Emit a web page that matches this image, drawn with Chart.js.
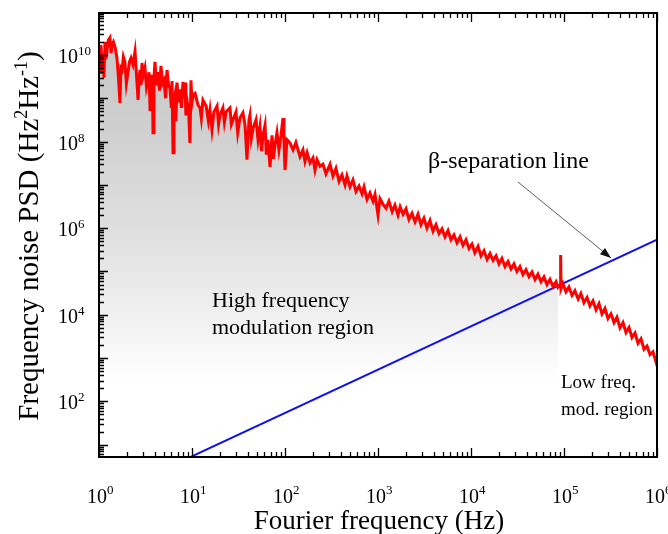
<!DOCTYPE html>
<html>
<head>
<meta charset="utf-8">
<script src="https://cdn.jsdelivr.net/npm/chart.js@4.4.0/dist/chart.umd.min.js"></script>
<style>
  html, body { margin: 0; padding: 0; background: #fff; }
  #wrap { width: 668px; height: 534px; }
</style>
</head>
<body>
<div id="wrap"><canvas id="psdChart" width="668" height="534"></canvas></div>
<script>
const freqHz = [
  1.0, 1.03, 1.05, 1.08, 1.1, 1.13, 1.16, 1.19, 1.22, 1.26, 1.31, 1.35, 1.38, 1.43, 1.49, 1.56, 1.62, 1.68, 1.72, 1.77,
  1.83, 1.9, 1.97, 2.05, 2.13, 2.21, 2.32, 2.44, 2.52, 2.63, 2.7, 2.76, 2.83, 2.9, 3.0, 3.12, 3.24, 3.36, 3.45, 3.54,
  3.62, 3.71, 3.76, 3.81, 3.9, 4.0, 4.15, 4.31, 4.47, 4.64, 4.82, 5.0, 5.2, 5.39, 5.6, 5.8, 6.0, 6.1, 6.25, 6.4,
  6.56, 6.7, 6.9, 7.15, 7.43, 7.7, 8.0, 8.2, 8.41, 8.6, 8.83, 9.2, 9.5, 9.75, 10.0, 10.3, 10.8,
  11.6, 12.2, 12.6, 13.1, 14.2, 15.0, 15.6, 16.4, 17.2, 18.6, 19.3, 20.0, 21.5, 22.3, 23.2, 25.6, 26.5, 27.6, 29.7, 31.0,
  32.8, 35.3, 37.2, 39.0, 41.0, 42.0, 43.5, 45.3, 48.8, 51.3, 53.8, 56.0, 58.0, 61.0, 63.0, 65.6, 69.0, 72.5, 75.0, 78.0,
  82.0, 86.1, 90.6, 95.2, 97.5, 100, 105, 113,
  122, 131, 145, 156, 164, 173, 186, 200, 210, 221, 238, 256, 276, 305, 328, 353, 381, 410, 442, 464,
  500, 538, 580, 625, 673, 707, 762, 820, 884, 929, 1000, 1050, 1130, 1220, 1310, 1420, 1520, 1640, 1730, 1860,
  2000, 2150, 2320, 2500, 2690, 2900, 3120, 3360, 3620, 3900, 4200, 4530, 4880, 5250, 5660, 6090, 6560, 7070, 7620, 8200,
  8840, 9510, 10250, 11000, 11900, 12800, 13800, 14900, 16000, 17300, 18600, 20000, 21500, 23200, 25000, 26900, 29000, 31200, 33600, 36200,
  39000, 42000, 45300, 48800, 52500, 56600, 60900, 65600, 70700, 76200, 82000, 86100, 90600, 92000, 93000, 97500, 105000, 113000, 122000, 131000,
  142000, 152000, 164000, 177000, 190000, 205000, 221000, 238000, 256000, 276000, 297000, 320000, 345000, 371000, 400000, 431000, 464000, 500000, 538000, 580000,
  625000, 673000, 725000, 781000, 841000, 906000, 976000, 1000000
];
const psdValues = [
  1.0e10, 4.0e9, 1.7e10, 6.0e9, 7.7e9, 3.0e9, 2.0e10, 8.0e9, 1.3e10, 2.2e10, 2.5e10, 1.1e10, 1.7e10, 2.0e10, 1.5e10, 8.5e9, 3.0e9, 7.8e8, 5.0e9, 4.5e9,
  9.0e9, 6.9e9, 2.2e9, 4.0e9, 7.0e9, 8.5e9, 6.0e9, 1.2e10, 4.0e9, 9.1e8, 3.0e9, 4.5e9, 2.0e9, 6.5e9, 3.5e9, 5.0e9, 1.8e9, 2.6e9, 4.0e9, 5.4e8,
  2.5e9, 3.5e9, 1.2e9, 1.6e8, 3.0e9, 6.9e9, 2.0e9, 4.0e9, 1.5e9, 5.6e9, 2.2e9, 2.6e9, 1.0e9, 4.5e9, 2.0e9, 1.7e9, 6.0e8, 2.5e9, 5.5e7, 9.0e8,
  1.2e9, 3.0e8, 2.3e9, 8.0e8, 1.6e9, 6.0e8, 2.4e9, 1.0e9, 2.3e9, 4.0e8, 9.1e8, 5.0e8, 9.3e7, 2.6e9, 8.0e8, 1.2e9, 1.3e9,
  7.0e8, 6.0e8, 3.5e8, 9.1e8, 6.6e8, 3.0e8, 5.4e8, 1.9e8, 4.8e8, 6.6e8, 2.5e8, 4.1e8, 6.0e8, 2.8e8, 4.8e8, 6.0e8, 2.5e8, 3.2e8, 4.8e8, 1.6e8,
  3.5e8, 4.6e8, 2.4e8, 3.8e7, 3.2e8, 4.1e8, 1.2e8, 2.0e8, 3.2e8, 1.1e8, 2.2e8, 6.0e7, 1.4e8, 2.4e8, 5.0e7, 1.1e8, 2.6e7, 1.4e8, 4.0e7, 8.3e7,
  1.6e8, 6.4e7, 1.4e8, 3.5e8, 1.1e8, 2.2e7, 1.1e8, 9.3e7,
  6.4e7, 9.5e7, 4.5e7, 6.4e7, 3.5e7, 5.5e7, 3.2e7, 4.2e7, 2.2e7, 3.8e7, 2.7e7, 3.0e7, 1.8e7, 3.0e7, 1.6e7, 2.4e7, 1.2e7, 1.7e7, 1.0e7, 1.6e7,
  9.0e6, 1.3e7, 7.0e6, 9.4e6, 6.2e6, 9.0e6, 4.6e6, 6.5e6, 4.2e6, 6.0e6, 2.0e6, 4.8e6, 3.6e6, 2.9e6, 4.2e6, 2.4e6, 3.4e6, 2.0e6, 3.1e6, 2.1e6,
  2.8e6, 1.6e6, 2.2e6, 1.4e6, 2.1e6, 1.2e6, 1.7e6, 1.0e6, 1.5e6, 8.5e5, 1.2e6, 7.5e5, 9.6e5, 6.3e5, 8.8e5, 5.4e5, 7.0e5, 4.6e5, 6.3e5, 4.0e5,
  5.4e5, 3.4e5, 4.3e5, 2.7e5, 3.8e5, 2.3e5, 3.0e5, 1.9e5, 2.6e5, 1.8e5, 2.3e5, 1.5e5, 2.0e5, 1.3e5, 1.7e5, 1.15e5, 1.5e5, 1.0e5, 1.3e5, 8.5e4,
  1.1e5, 7.6e4, 9.7e4, 6.5e4, 8.6e4, 5.8e4, 7.5e4, 5.0e4, 6.6e4, 4.5e4, 5.8e4, 4.3e4, 4.8e4, 2.4e5, 4.0e4, 5.2e4, 3.4e4, 4.4e4, 2.8e4, 3.6e4,
  2.3e4, 3.1e4, 1.9e4, 2.5e4, 1.6e4, 2.1e4, 1.3e4, 1.8e4, 1.05e4, 1.4e4, 8.2e3, 1.05e4, 6.6e3, 8.8e3, 5.0e3, 6.6e3, 3.9e3, 5.1e3, 3.0e3, 3.8e3,
  2.2e3, 2.8e3, 1.6e3, 1.9e3, 1.2e3, 1.4e3, 8.1e2, 1.0e3
];

// beta-separation line endpoints
const betaFreq = [1, 1e6];
const betaPsd = [0.54, 5.4e5];

// shaded "high frequency modulation" area stops here
const fillEndHz = 90000;

const xRange = [1, 1e6];
const yRange = [5.2, 9.3e10];
const xLabelExps = [0, 1, 2, 3, 4, 5, 6];
const yLabelExps = [2, 4, 6, 8, 10];

const serif = '"Liberation Serif", "Times New Roman", serif';

const psdPoints = freqHz.map((f, i) => ({ x: f, y: psdValues[i] }));
const shadePoints = psdPoints.filter(p => p.x <= fillEndHz);
const betaPoints = betaFreq.map((f, i) => ({ x: f, y: betaPsd[i] }));

function drawParts(ctx, parts, x, y, align) {
  // parts: [text, fontPx, raise]
  let total = 0;
  parts.forEach(p => { ctx.font = p[1] + 'px ' + serif; total += ctx.measureText(p[0]).width; });
  let cx = align === 'center' ? x - total / 2 : (align === 'right' ? x - total : x);
  parts.forEach(p => {
    ctx.font = p[1] + 'px ' + serif;
    ctx.fillText(p[0], cx, y - p[2]);
    cx += ctx.measureText(p[0]).width;
  });
}

const frame = {
  id: 'frame',
  afterDatasetsDraw(chart) {
    const { ctx, chartArea: a, scales: { x, y } } = chart;
    ctx.save();
    ctx.strokeStyle = '#000';
    ctx.fillStyle = '#000';

    // inward ticks
    ctx.lineWidth = 1.3;
    ctx.beginPath();
    for (let d = 0; d <= 6; d++) {
      for (let k = 1; k <= 9; k++) {
        const v = k * Math.pow(10, d);
        if (v > xRange[1] * 1.0001) break;
        const px = Math.round(x.getPixelForValue(v)) + 0.5;
        const len = k === 1 ? 9 : 5;
        ctx.moveTo(px, a.bottom); ctx.lineTo(px, a.bottom - len);
        ctx.moveTo(px, a.top); ctx.lineTo(px, a.top + len);
      }
    }
    for (let d = 0; d <= 11; d++) {
      for (let k = 1; k <= 9; k++) {
        const v = k * Math.pow(10, d);
        if (v < yRange[0] || v > yRange[1]) continue;
        const py = Math.round(y.getPixelForValue(v)) + 0.5;
        const len = k === 1 ? 9 : 5;
        ctx.moveTo(a.left, py); ctx.lineTo(a.left + len, py);
      }
    }
    ctx.stroke();

    // axes box
    ctx.lineWidth = 2;
    ctx.strokeRect(a.left, a.top, a.right - a.left, a.bottom - a.top);

    // tick labels
    ctx.textBaseline = 'alphabetic';
    xLabelExps.forEach(e => {
      const px = x.getPixelForValue(Math.pow(10, e));
      ctx.font = '20px ' + serif;
      const w = ctx.measureText('10').width;
      ctx.textAlign = 'left';
      ctx.fillText('10', px - 2 - w / 2, 503);
      ctx.font = '13px ' + serif;
      ctx.fillText(String(e), px - 2 + w / 2, 494);
    });
    yLabelExps.forEach(e => {
      const py = y.getPixelForValue(Math.pow(10, e));
      ctx.font = '20px ' + serif;
      ctx.textAlign = 'right';
      ctx.fillText('10', 78, py + 8);
      ctx.font = '13px ' + serif;
      ctx.textAlign = 'left';
      ctx.fillText(String(e), 78, py);
    });

    // axis titles
    ctx.textAlign = 'left';
    drawParts(ctx, [['Fourier frequency (Hz)', 27, 0]], 379, 529, 'center');
    ctx.save();
    ctx.translate(38, 236);
    ctx.rotate(-Math.PI / 2);
    drawParts(ctx, [['Frequency noise PSD (Hz', 29, 0], ['2', 18, 11], ['Hz', 29, 0], ['-1', 18, 11], [')', 29, 0]], 0, 0, 'center');
    ctx.restore();

    // annotations
    ctx.font = '24px ' + serif;
    ctx.fillText('\u03b2-separation line', 428, 168);
    ctx.font = '22px ' + serif;
    ctx.fillText('High frequency', 212, 307);
    ctx.fillText('modulation region', 212, 334);
    ctx.font = '19px ' + serif;
    ctx.fillText('Low freq.', 561, 388);
    ctx.fillText('mod. region', 561, 415);

    // arrow to the beta line
    const x0 = 518, y0 = 182, x1 = 611, y1 = 258;
    ctx.lineWidth = 0.8;
    ctx.strokeStyle = '#333';
    ctx.beginPath(); ctx.moveTo(x0, y0); ctx.lineTo(x1, y1); ctx.stroke();
    const ang = Math.atan2(y1 - y0, x1 - x0);
    ctx.beginPath();
    ctx.moveTo(x1, y1);
    ctx.lineTo(x1 - 11 * Math.cos(ang) + 4 * Math.sin(ang), y1 - 11 * Math.sin(ang) - 4 * Math.cos(ang));
    ctx.lineTo(x1 - 11 * Math.cos(ang) - 4 * Math.sin(ang), y1 - 11 * Math.sin(ang) + 4 * Math.cos(ang));
    ctx.closePath();
    ctx.fillStyle = '#111';
    ctx.fill();
    ctx.restore();
  }
};

const ctx = document.getElementById('psdChart').getContext('2d');
new Chart(ctx, {
  type: 'line',
  data: {
    datasets: [
      {
        label: 'PSD',
        data: psdPoints,
        borderColor: '#ff0000',
        borderWidth: 3,
        pointRadius: 0,
        tension: 0,
        fill: false,
        order: 1
      },
      {
        label: 'beta separation line',
        data: betaPoints,
        borderColor: '#1010f0',
        borderWidth: 2,
        pointRadius: 0,
        tension: 0,
        fill: false,
        order: 2
      },
      {
        label: 'shade',
        data: shadePoints,
        borderWidth: 0,
        borderColor: 'rgba(0,0,0,0)',
        pointRadius: 0,
        tension: 0,
        fill: 'start',
        backgroundColor: (c) => {
          const area = c.chart.chartArea;
          if (!area) return '#ddd';
          const g = c.chart.ctx.createLinearGradient(0, area.top, 0, area.bottom);
          g.addColorStop(0, '#c4c4c4');
          g.addColorStop(0.25, '#cfcfcf');
          g.addColorStop(0.5, '#e0e0e0');
          g.addColorStop(0.7, '#f2f2f2');
          g.addColorStop(0.83, '#ffffff');
          g.addColorStop(1, '#ffffff');
          return g;
        },
        order: 3
      }
    ]
  },
  options: {
    responsive: false,
    animation: false,
    layout: { padding: { left: 99, right: 11, top: 13, bottom: 77 } },
    plugins: { legend: { display: false }, tooltip: { enabled: false } },
    scales: {
      x: { type: 'logarithmic', display: false, min: xRange[0], max: xRange[1] },
      y: { type: 'logarithmic', display: false, min: yRange[0], max: yRange[1] }
    }
  },
  plugins: [frame]
});
</script>
</body>
</html>
